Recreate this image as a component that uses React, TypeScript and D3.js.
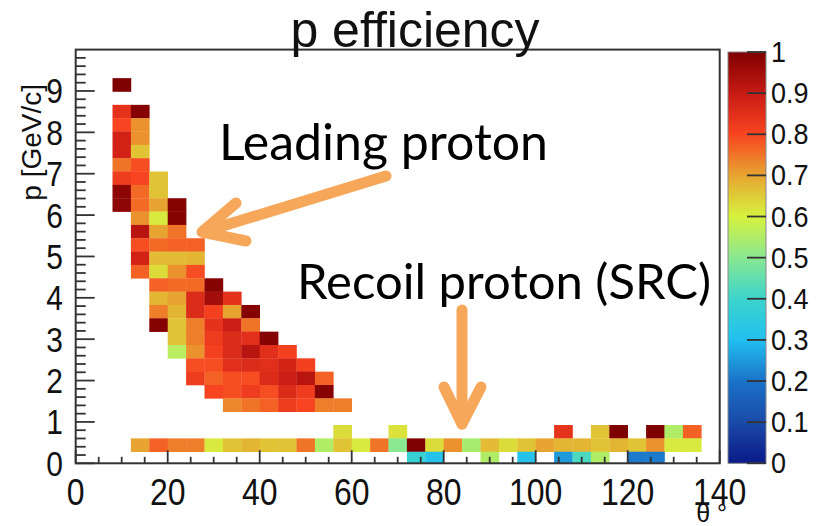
import React, { useRef, useEffect } from "react";
import * as d3 from "d3";

// theta bins are 4 deg wide, p bins ~0.32 GeV/c wide
const THETA_BIN = 4;
const P_BIN = 0.3225;
const P_OFFSET = -0.0425;

// leading proton band: p-bin row, first theta bin, efficiencies
const leadingRows = [
  { row: 28, col: 2, eff: [1.0] },
  { row: 26, col: 2, eff: [0.84, 0.99] },
  { row: 25, col: 2, eff: [0.8, 0.72] },
  { row: 24, col: 2, eff: [0.88, 0.72] },
  { row: 23, col: 2, eff: [0.88, 0.66] },
  { row: 22, col: 2, eff: [0.75, 0.79] },
  { row: 21, col: 2, eff: [0.82, 0.8, 0.66] },
  { row: 20, col: 2, eff: [0.98, 0.76, 0.66] },
  { row: 19, col: 2, eff: [0.98, 0.76, 0.7, 0.99] },
  { row: 18, col: 3, eff: [0.72, 0.61, 0.99] },
  { row: 17, col: 3, eff: [0.92, 0.7, 0.75] },
  { row: 16, col: 3, eff: [0.79, 0.76, 0.77, 0.77] },
  { row: 15, col: 3, eff: [0.88, 0.67, 0.67, 0.68] },
  { row: 14, col: 3, eff: [0.77, 0.63, 0.72, 0.79] },
  { row: 13, col: 4, eff: [0.77, 0.76, 0.76, 0.99] },
  { row: 12, col: 4, eff: [0.68, 0.7, 0.86, 0.95, 0.84] },
  { row: 11, col: 4, eff: [0.74, 0.68, 0.86, 0.81, 0.7, 0.99] },
  { row: 10, col: 4, eff: [0.99, 0.66, 0.74, 0.84, 0.89, 0.75] },
  { row: 9, col: 5, eff: [0.66, 0.74, 0.82, 0.86, 0.85, 0.99] },
  { row: 8, col: 5, eff: [0.56, 0.72, 0.81, 0.86, 0.92, 0.85, 0.81] },
  { row: 7, col: 6, eff: [0.79, 0.79, 0.85, 0.86, 0.85, 0.88, 0.81] },
  { row: 6, col: 6, eff: [0.82, 0.77, 0.79, 0.79, 0.86, 0.89, 0.92, 0.77] },
  { row: 5, col: 7, eff: [0.8, 0.79, 0.82, 0.79, 0.86, 0.82, 0.99] },
  { row: 4, col: 8, eff: [0.73, 0.75, 0.77, 0.82, 0.8, 0.74, 0.74] },
];

// recoil (SRC) band at low p, null = empty bin
const recoilRow2 = [
  0.63, null, null, 0.62, null, null, null, null, null, null, null, null,
  0.84, null, 0.66, 1.0, null, 1.0, 0.55, 0.77,
];
const recoilRow1 = [
  0.7, 0.77, 0.74, 0.74, 0.61, 0.66, 0.68, 0.66, 0.66, 0.75, 0.55, 0.66,
  0.61, 0.75, 0.5, 1.0, 0.63, 0.72, 0.54, 0.67, 0.63, 0.66, 0.7, 0.68,
  0.68, 0.66, 0.68, 0.66, 0.72, 0.61, 0.61,
];
const recoilRow0 = [
  0.38, 0.31, null, null, 0.55, null, 0.31, null, 0.25, 0.42, 0.55, null,
  0.21, 0.21,
];
const recoilRows = [
  { row: 2, col: 14, eff: recoilRow2 },
  { row: 1, col: 3, eff: recoilRow1 },
  { row: 0, col: 18, eff: recoilRow0 },
];

const xTicks = [0, 20, 40, 60, 80, 100, 120, 140];
const yTicks = [0, 1, 2, 3, 4, 5, 6, 7, 8, 9];
const zTicks = [0, 0.1, 0.2, 0.3, 0.4, 0.5, 0.6, 0.7, 0.8, 0.9, 1];
const paletteStops = [0, 0.1, 0.2, 0.3, 0.4, 0.5, 0.6, 0.7, 0.8, 0.9, 1];
const paletteColors = [
  "#0a1a88", "#1a4aa8", "#1a72c8", "#22c0f0", "#3cd4cc", "#8ae890",
  "#d6f23e", "#e8a430", "#f84420", "#c81a14", "#7e0000",
];

export default function App() {
  const ref = useRef(null);

  useEffect(() => {
    const svg = d3.select(ref.current);
    svg.selectAll("*").remove();

    const x = d3.scaleLinear().domain([0, 140]).range([75.7, 719.7]);
    const y = d3.scaleLinear().domain([0, 10]).range([463.3, 49.6]);
    const color = d3
      .scaleLinear<string>()
      .domain(paletteStops)
      .range(paletteColors)
      .interpolate(d3.interpolateRgb)
      .clamp(true);

    const font = "'Liberation Sans', Arial, sans-serif";
    const axisCol = "#333";

    // cells
    const cells: { c: number; r: number; v: number }[] = [];
    [...leadingRows, ...recoilRows].forEach((d) =>
      d.eff.forEach((v, i) => {
        if (v != null) cells.push({ c: d.col + i, r: d.row, v });
      })
    );
    const lo = (r: number) => Math.max(0, P_OFFSET + r * P_BIN);
    const hi = (r: number) => P_OFFSET + (r + 1) * P_BIN;

    svg
      .append("g")
      .selectAll("rect")
      .data(cells)
      .join("rect")
      .attr("x", (d) => x(d.c * THETA_BIN))
      .attr("width", (d) => x((d.c + 1) * THETA_BIN) - x(d.c * THETA_BIN) + 0.3)
      .attr("y", (d) => y(hi(d.r)))
      .attr("height", (d) => y(lo(d.r)) - y(hi(d.r)) + 0.3)
      .attr("fill", (d) => color(d.v));

    // frame
    svg
      .append("rect")
      .attr("x", x(0))
      .attr("y", y(10))
      .attr("width", x(140) - x(0))
      .attr("height", y(0) - y(10))
      .attr("fill", "none")
      .attr("stroke", axisCol)
      .attr("stroke-width", 2);

    // x ticks
    const xg = svg.append("g").attr("stroke", axisCol).attr("stroke-width", 1.8);
    d3.range(0, 141, 5).forEach((t) => {
      const major = t % 20 === 0;
      xg.append("line")
        .attr("x1", x(t)).attr("x2", x(t))
        .attr("y1", y(0)).attr("y2", y(0) - (major ? 13 : 6.5));
    });
    svg
      .append("g")
      .selectAll("text")
      .data(xTicks)
      .join("text")
      .attr("transform", (d) => `translate(${x(d)},505) scale(1,1.15)`)
      .attr("text-anchor", "middle")
      .attr("font-family", font)
      .attr("font-size", 32)
      .attr("fill", "#111")
      .text((d) => d);

    // y ticks
    const yg = svg.append("g").attr("stroke", axisCol).attr("stroke-width", 1.8);
    d3.range(0, 50).forEach((i) => {
      const t = i * 0.2;
      const major = i % 5 === 0;
      yg.append("line")
        .attr("x1", x(0)).attr("x2", x(0) + (major ? 19 : 10))
        .attr("y1", y(t)).attr("y2", y(t));
    });
    svg
      .append("g")
      .selectAll("text")
      .data(yTicks)
      .join("text")
      .attr("transform", (d) => `translate(63,${y(d) + 12.5}) scale(1,1.15)`)
      .attr("text-anchor", "end")
      .attr("font-family", font)
      .attr("font-size", 30)
      .attr("fill", "#111")
      .text((d) => d);

    // axis titles and title
    svg
      .append("text")
      .attr("transform", `translate(41,84) rotate(-90)`)
      .attr("text-anchor", "end")
      .attr("font-family", font)
      .attr("font-size", 28)
      .attr("fill", "#111")
      .text("p [GeV/c]");
    svg
      .append("text")
      .attr("x", 727)
      .attr("y", 522)
      .attr("text-anchor", "end")
      .attr("font-family", font)
      .attr("font-size", 25)
      .attr("fill", "#111")
      .text("θ °");
    svg
      .append("text")
      .attr("x", 415)
      .attr("y", 47)
      .attr("text-anchor", "middle")
      .attr("font-family", font)
      .attr("font-size", 50)
      .attr("fill", "#111")
      .text("p efficiency");

    // colour bar
    const z = d3.scaleLinear().domain([0, 1]).range([463.3, 52]);
    const grad = svg
      .append("defs")
      .append("linearGradient")
      .attr("id", "zgrad")
      .attr("x1", 0).attr("y1", 1).attr("x2", 0).attr("y2", 0);
    d3.range(0, 1.001, 0.02).forEach((t) =>
      grad.append("stop").attr("offset", t).attr("stop-color", color(t))
    );
    svg
      .append("rect")
      .attr("x", 728)
      .attr("y", z(1))
      .attr("width", 38)
      .attr("height", z(0) - z(1))
      .attr("fill", "url(#zgrad)")
      .attr("stroke", "#888")
      .attr("stroke-width", 1);
    const zg = svg.append("g").attr("stroke", axisCol).attr("stroke-width", 1.8);
    zTicks.forEach((t) =>
      zg.append("line")
        .attr("x1", 747).attr("x2", 766)
        .attr("y1", z(t)).attr("y2", z(t))
    );
    svg
      .append("g")
      .selectAll("text")
      .data(zTicks)
      .join("text")
      .attr("transform", (d) => `translate(771,${z(d) + 10}) scale(1,1.1)`)
      .attr("font-family", font)
      .attr("font-size", 27)
      .attr("fill", "#111")
      .text((d) => String(d));

    // annotations
    const ann = "Lato, 'Open Sans', sans-serif";
    svg
      .append("text")
      .attr("x", 219)
      .attr("y", 160)
      .attr("font-family", ann)
      .attr("font-size", 50)
      .attr("fill", "#000")
      .text("Leading proton");
    svg
      .append("text")
      .attr("x", 297)
      .attr("y", 299)
      .attr("font-family", ann)
      .attr("font-size", 49)
      .attr("fill", "#000")
      .text("Recoil proton (SRC)");

    const arrowCol = "#f7a75a";
    const arrows = svg
      .append("g")
      .attr("stroke", arrowCol)
      .attr("stroke-width", 11)
      .attr("stroke-linecap", "round")
      .attr("stroke-linejoin", "round")
      .attr("fill", "none");
    arrows.append("path").attr("d", "M386,176 L203,232");
    arrows.append("path").attr("d", "M236,203 L202,232 L246,241");
    arrows.append("path").attr("d", "M462,310 L462,424");
    arrows.append("path").attr("d", "M444,387 L462,424 L481,387");
  }, []);

  return (
    <svg
      ref={ref}
      width={823}
      height={526}
      style={{ position: "absolute", left: 0, top: 0, background: "#fff" }}
    />
  );
}
